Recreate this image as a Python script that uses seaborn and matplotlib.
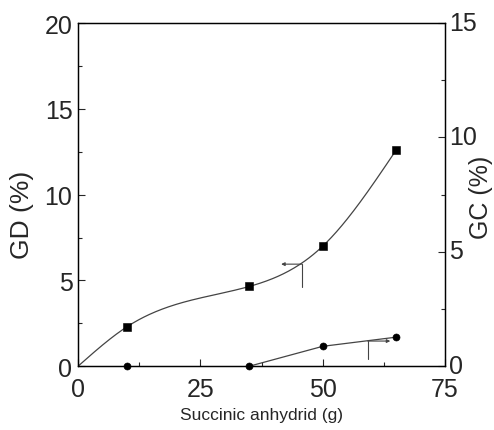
import numpy as np
import pandas as pd
import matplotlib
matplotlib.use("Agg")
import matplotlib.pyplot as plt
import matplotlib.transforms as mtransforms
import seaborn as sns

# Data
gd_x = [10, 35, 50, 65]
gd_y = [2.3, 4.65, 7.0, 12.6]
gd_curve_x = [0, 10, 35, 50, 65]
gd_curve_y = [0, 2.3, 4.65, 7.0, 12.6]
gc_x = [10, 35, 50, 65]
gc_y = [0.0, 0.0, 0.87, 1.27]
gc_line_x = [35, 50, 65]
gc_line_y = [0.0, 0.87, 1.27]
x_ticks = [0, 25, 50, 75]
left_ticks = [0, 5, 10, 15, 20]
right_ticks = [0, 5, 10, 15]


def natural_spline(xs, ys, n=300):
    xs = np.asarray(xs, float); ys = np.asarray(ys, float)
    k = len(xs)
    h = np.diff(xs)
    A = np.zeros((k, k)); b = np.zeros(k)
    A[0, 0] = 1; A[-1, -1] = 1
    for i in range(1, k - 1):
        A[i, i - 1] = h[i - 1]
        A[i, i] = 2 * (h[i - 1] + h[i])
        A[i, i + 1] = h[i]
        b[i] = 3 * ((ys[i + 1] - ys[i]) / h[i] - (ys[i] - ys[i - 1]) / h[i - 1])
    c = np.linalg.solve(A, b)
    xx = np.linspace(xs[0], xs[-1], n)
    yy = np.empty_like(xx)
    for j, x in enumerate(xx):
        i = min(np.searchsorted(xs, x, side="right") - 1, k - 2)
        dx = x - xs[i]
        bb = (ys[i + 1] - ys[i]) / h[i] - h[i] * (2 * c[i] + c[i + 1]) / 3
        d = (c[i + 1] - c[i]) / (3 * h[i])
        yy[j] = ys[i] + bb * dx + c[i] * dx ** 2 + d * dx ** 3
    return xx, yy


sns.set_style("ticks")
plt.rcParams["font.family"] = ["Liberation Sans", "DejaVu Sans"]
plt.rcParams["xtick.direction"] = "in"
plt.rcParams["ytick.direction"] = "in"

fig = plt.figure(figsize=(4.94, 4.31), dpi=100)
ax = fig.add_axes([0.158, 0.148, 0.743, 0.796])

cx, cy = natural_spline(gd_curve_x, gd_curve_y)
df_curve = pd.DataFrame({"x": cx, "y": cy})
sns.lineplot(data=df_curve, x="x", y="y", ax=ax, color="#444444", lw=0.9,
             estimator=None, sort=False)
sns.scatterplot(x=gd_x, y=gd_y, ax=ax, marker="s", s=26, color="black",
                edgecolor="black", zorder=5)

ax.set_xlim(0, 75)
ax.set_ylim(0, 20)
ax.set_xticks(x_ticks)
ax.set_xticks([12.5, 37.5, 62.5], minor=True)
ax.set_yticks(left_ticks)
ax.set_yticks([2.5, 7.5, 12.5, 17.5], minor=True)
ax.tick_params(axis="both", which="major", labelsize=18, length=5, width=0.8)
ax.tick_params(axis="x", which="major", pad=8)
ax.tick_params(axis="y", which="major", pad=4)
ax.tick_params(axis="both", which="minor", length=3, width=0.8)
ax.set_xlabel("Succinic anhydrid (g)", fontsize=12.5)
ax.xaxis.set_label_coords(0.5, -0.12)
ax.set_ylabel("GD (%)", fontsize=19)
ax.yaxis.set_label_coords(-0.12, 0.445)

ax2 = ax.twinx()
df_gc = pd.DataFrame({"x": gc_line_x, "y": gc_line_y})
sns.lineplot(data=df_gc, x="x", y="y", ax=ax2, color="#444444", lw=0.9,
             estimator=None, sort=False)
sns.scatterplot(x=gc_x, y=gc_y, ax=ax2, marker="o", s=26, color="black",
                edgecolor="black", zorder=5, clip_on=False)
ax2.set_ylim(0, 15)
ax2.set_yticks(right_ticks)
ax2.set_yticks([2.5, 7.5, 12.5], minor=True)
ax2.tick_params(axis="y", which="major", labelsize=18, length=5, width=0.8, pad=3, direction="in")
ax2.tick_params(axis="y", which="minor", length=3, width=0.8, direction="in")
ax2.set_ylabel("GC (%)", fontsize=18)
ax2.yaxis.set_label_coords(1.065, 0.495)
ax2.set_xlabel("")

# lift the right-axis tick labels a touch (as in the reference)
offset = mtransforms.ScaledTranslation(0, 3 / 100, fig.dpi_scale_trans)
for lbl in ax2.get_yticklabels():
    lbl.set_transform(lbl.get_transform() + offset)

for a in (ax, ax2):
    for s in a.spines.values():
        s.set_visible(True)
        s.set_linewidth(0.9)
        s.set_color("black")

# axis-indicator arrows
ax.annotate("", xy=(41.5, 5.95), xytext=(45.8, 5.95),
            arrowprops=dict(arrowstyle="-|>", color="#444444", lw=0.8,
                            mutation_scale=5, shrinkA=0, shrinkB=0))
ax.plot([45.8, 45.8], [5.95, 4.6], color="#444444", lw=0.8)
ax2.annotate("", xy=(63.8, 1.1), xytext=(59.2, 1.1),
             arrowprops=dict(arrowstyle="-|>", color="#444444", lw=0.8,
                             mutation_scale=5, shrinkA=0, shrinkB=0))
ax2.plot([59.2, 59.2], [1.1, 0.3], color="#444444", lw=0.8)

fig.savefig("out.png", dpi=100)
